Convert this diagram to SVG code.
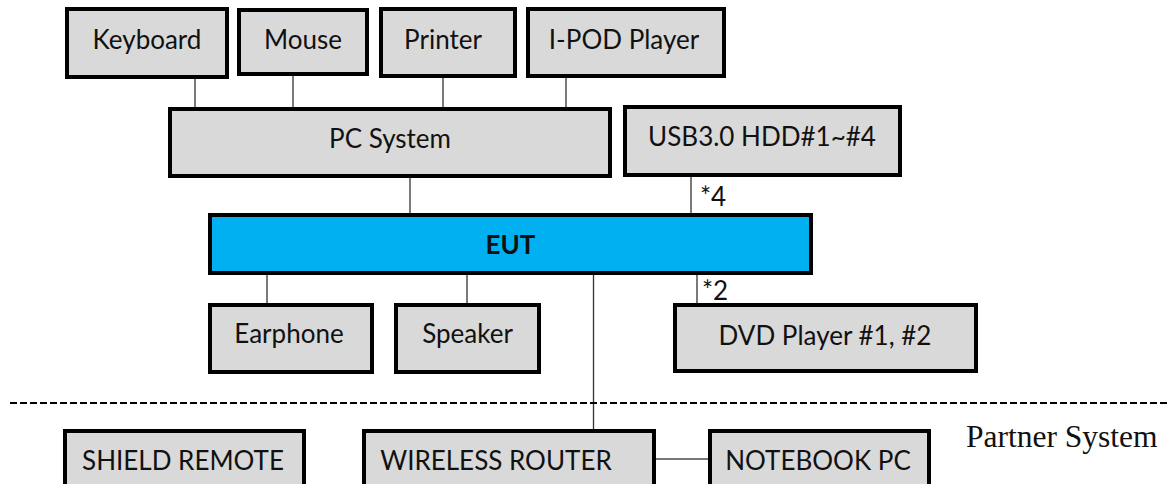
<svg xmlns="http://www.w3.org/2000/svg" width="1169" height="484" viewBox="0 0 1169 484">
<style>
.box{fill:#d9d9d9;stroke:#000;stroke-width:4}
.eut{fill:#00b0f0;stroke:#000;stroke-width:4}
.lbl{font-family:Lato,"Liberation Sans",sans-serif;font-size:26px;fill:#111;text-anchor:middle}
.b{font-weight:bold}
.note{font-family:Lato,"Liberation Sans",sans-serif;font-size:26px;fill:#111}
.conn line{stroke:#333;stroke-width:1.3}
.partner{font-family:"Liberation Serif",serif;font-size:31.5px;fill:#111}
</style>
<rect width="1169" height="484" fill="#fff"/>
<g id="connectors" class="conn">
<line x1="195" y1="79" x2="195" y2="109"/>
<line x1="293" y1="76" x2="293" y2="109"/>
<line x1="443" y1="78" x2="443" y2="109"/>
<line x1="566" y1="78" x2="566" y2="109"/>
<line x1="410" y1="178" x2="410" y2="215"/>
<line x1="691" y1="176" x2="691" y2="215"/>
<line x1="267" y1="275" x2="267" y2="305"/>
<line x1="467" y1="275" x2="467" y2="305"/>
<line x1="697" y1="275" x2="697" y2="305"/>
<line x1="593.5" y1="275" x2="593.5" y2="431"/>
<line x1="656" y1="459" x2="708" y2="459" style="stroke:#777;stroke-width:2"/>
</g>
<text class="note" x="700" y="206">*4</text>
<text class="note" x="702" y="300">*2</text>
<line id="divider" x1="10" y1="403" x2="1169" y2="403" stroke="#000" stroke-width="2" stroke-dasharray="7 3"/>
<text class="partner" x="966" y="447">Partner System</text>
<g id="keyboard"><rect class="box" x="67" y="9" width="160" height="68"/><text class="lbl" x="147" y="49">Keyboard</text></g>
<g id="mouse"><rect class="box" x="239" y="10" width="128" height="64"/><text class="lbl" x="303" y="49">Mouse</text></g>
<g id="printer"><rect class="box" x="381" y="9" width="134" height="67"/><text class="lbl" x="443" y="49">Printer</text></g>
<g id="ipod"><rect class="box" x="528" y="9" width="196" height="67"/><text class="lbl" x="624" y="49">I-POD Player</text></g>
<g id="pc"><rect class="box" x="170" y="109" width="440" height="67"/><text class="lbl" x="390" y="148">PC System</text></g>
<g id="usb"><rect class="box" x="625" y="107" width="275" height="68"/><text class="lbl" x="762" y="146">USB3.0 HDD#1~#4</text></g>
<g id="eut"><rect class="eut" x="210" y="215" width="601" height="58"/><text class="lbl b" x="510.5" y="254">EUT</text></g>
<g id="earphone"><rect class="box" x="210" y="305" width="162" height="67"/><text class="lbl" x="289" y="343">Earphone</text></g>
<g id="speaker"><rect class="box" x="396" y="305" width="143" height="67"/><text class="lbl" x="467.5" y="343">Speaker</text></g>
<g id="dvd"><rect class="box" x="675" y="305" width="301" height="66"/><text class="lbl" x="825" y="345">DVD Player #1, #2</text></g>
<g id="shield"><rect class="box" x="65" y="431" width="239" height="70"/><text class="lbl" x="183" y="470">SHIELD REMOTE</text></g>
<g id="router"><rect class="box" x="364" y="431" width="290" height="70"/><text class="lbl" x="496" y="470">WIRELESS ROUTER</text></g>
<g id="notebook"><rect class="box" x="710" y="431" width="219" height="70"/><text class="lbl" x="818" y="470">NOTEBOOK PC</text></g>
</svg>
